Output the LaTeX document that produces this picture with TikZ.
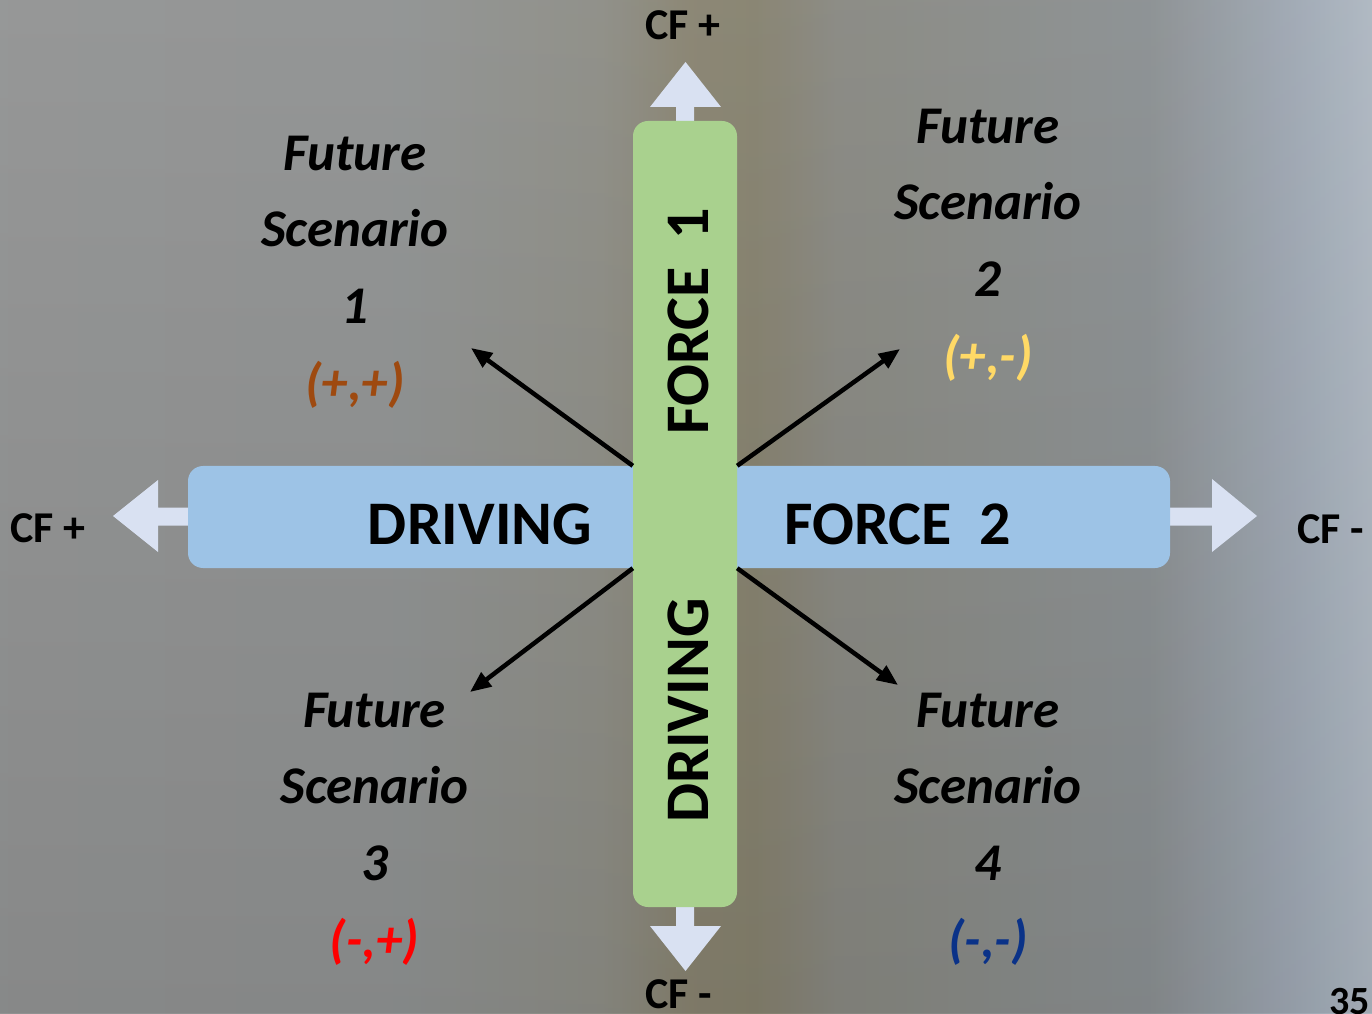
\documentclass[tikz,border=0pt]{standalone}
\usepackage{fontspec}
\setmainfont{Carlito}
\usetikzlibrary{arrows.meta}
\definecolor{barblue}{HTML}{9DC3E6}
\definecolor{bargreen}{HTML}{A9D18E}
\definecolor{cfarrow}{HTML}{D9E1F2}
\definecolor{sbrown}{HTML}{9E4A10}
\definecolor{syellow}{HTML}{FFD966}
\definecolor{sred}{HTML}{FF0000}
\definecolor{sblue}{HTML}{0A3288}
\pgfdeclarehorizontalshading{wall}{100bp}{
 rgb(0bp)=(0.60,0.61,0.61);
 rgb(25bp)=(0.60,0.61,0.61);
 rgb(39.6bp)=(0.59,0.60,0.60);
 rgb(46.9bp)=(0.58,0.58,0.55);
 rgb(50.1bp)=(0.56,0.54,0.46);
 rgb(52.5bp)=(0.55,0.53,0.45);
 rgb(55.5bp)=(0.56,0.56,0.53);
 rgb(66.9bp)=(0.57,0.59,0.60);
 rgb(72.4bp)=(0.66,0.70,0.75);
 rgb(75bp)=(0.72,0.76,0.80);
 rgb(100bp)=(0.72,0.76,0.80)}
\tikzset{
  bar/.style={rounded corners=15pt, draw=none, inner sep=0pt},
  cfshape/.style={fill=cfarrow, draw=none},
  cflabel/.style={font=\bfseries\fontsize{44}{50}\selectfont, inner sep=0pt, anchor=base west},
  biglabel/.style={font=\bfseries\fontsize{62}{70}\selectfont, inner sep=0pt, anchor=base},
  scen/.style={font=\bfseries\itshape\fontsize{53}{60}\selectfont, inner sep=0pt, anchor=base},
  pointer/.style={line width=4.5pt, -{Triangle[length=21pt,width=17pt]}},
}
\begin{document}
\begin{tikzpicture}[x=1pt,y=1pt]
\useasboundingbox (0,0) rectangle (1372,1013);
% background
\fill[shading=wall] (0,0) rectangle (1372,1013);
\fill[top color=white, bottom color=black, fill opacity=0.06] (0,0) rectangle (1372,1013);
% CF arrows (behind bars)
\fill[cfshape] (676,880) -- (676,906) -- (650,906) -- (685.5,951) -- (721,906) -- (694,906) -- (694,880) -- cycle;
\fill[cfshape] (676,120) -- (676,87) -- (650,87) -- (685.5,42) -- (721,87) -- (694,87) -- (694,120) -- cycle;
\fill[cfshape] (200,505.3) -- (158,505.3) -- (158,533) -- (113,497) -- (158,461) -- (158,487.3) -- (200,487.3) -- cycle;
\fill[cfshape] (1160,505.3) -- (1212,505.3) -- (1212,534) -- (1257,497) -- (1212,461) -- (1212,487.3) -- (1160,487.3) -- cycle;
% bars
\node[bar, fill=barblue, minimum width=982pt, minimum height=102pt] (bbar) at (679,496) {};
\node[bar, fill=bargreen, minimum width=104pt, minimum height=786pt] (gbar) at (685,499) {};
% bar labels
\node[biglabel] (drivh) at (480,468) {DRIVING};
\node[biglabel] (force2) at (898,468) {FORCE\ \ 2};
\node[biglabel, rotate=90] (force1) at (708,692) {FORCE\ \ 1};
\node[biglabel, rotate=90] (drivv) at (708,302.5) {DRIVING};
% CF labels
\node[cflabel] (cftop) at (645,973) {CF +};
\node[cflabel] (cfleft) at (10,471) {CF +};
\node[cflabel] (cfright) at (1297,470) {CF -};
\node[cflabel] (cfbottom) at (645,5) {CF -};
\node[font=\bfseries\fontsize{40}{46}\selectfont, inner sep=0pt, anchor=base west] (pagenum) at (1329,-1) {35};
% pointer ends
\coordinate (tUL) at (471,665);
\coordinate (tUR) at (900,664);
\coordinate (tLL) at (470,321);
\coordinate (tLR) at (898,328);
\draw[pointer] (gbar.west |- bbar.north) -- (tUL);
\draw[pointer] (gbar.east |- bbar.north) -- (tUR);
\draw[pointer] (gbar.west |- bbar.south) -- (tLL);
\draw[pointer] (gbar.east |- bbar.south) -- (tLR);
% scenario 1
\node[scen] (s1a) at (355,842) {Future};
\node[scen] (s1b) at (355,766) {Scenario};
\node[scen] (s1c) at (355,689) {1};
\node[scen, text=sbrown] (s1d) at (355,612) {(+,+)};
% scenario 2
\node[scen] (s2a) at (988,869) {Future};
\node[scen] (s2b) at (988,793) {Scenario};
\node[scen] (s2c) at (988,716) {2};
\node[scen, text=syellow] (s2d) at (988,639) {(+,-)};
% scenario 3
\node[scen] (s3a) at (374.5,286) {Future};
\node[scen] (s3b) at (374.5,210) {Scenario};
\node[scen] (s3c) at (374.5,133) {3};
\node[scen, text=sred] (s3d) at (374.5,56) {(-,+)};
% scenario 4
\node[scen] (s4a) at (988,286) {Future};
\node[scen] (s4b) at (988,210) {Scenario};
\node[scen] (s4c) at (988,133) {4};
\node[scen, text=sblue] (s4d) at (988,56) {(-,-)};
\end{tikzpicture}
\end{document}
